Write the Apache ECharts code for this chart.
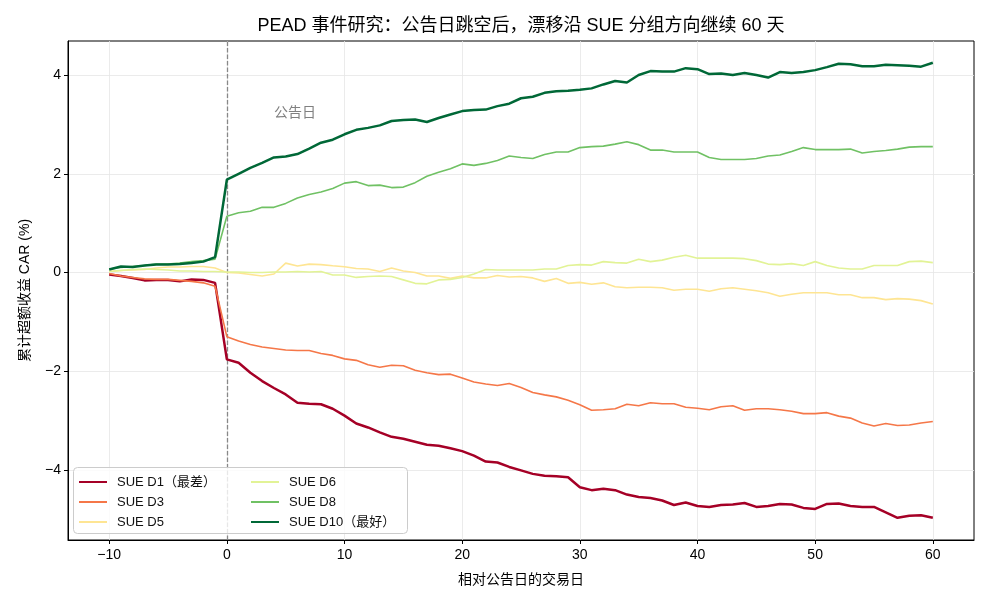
<!DOCTYPE html>
<html>
<head>
<meta charset="utf-8">
<script src="https://cdn.jsdelivr.net/npm/echarts@6/dist/echarts.min.js"></script>
<style>html,body{margin:0;padding:0;background:#fff}#c{width:990px;height:605px}</style>
</head>
<body>
<div id="c"></div>
<script>
// ---- data ----
const days = [];
for (let d = -10; d <= 60; d++) days.push(d);

const seriesNames = ['SUE D1（最差）', 'SUE D3', 'SUE D5', 'SUE D6', 'SUE D8', 'SUE D10（最好）'];

const carD1 = [-0.04,-0.07,-0.11,-0.16,-0.15,-0.15,-0.18,-0.14,-0.15,-0.21,
  -1.76,-1.83,-2.03,-2.20,-2.34,-2.47,-2.64,-2.66,-2.67,-2.76,
  -2.90,-3.06,-3.14,-3.24,-3.33,-3.37,-3.43,-3.49,-3.51,-3.56,
  -3.62,-3.71,-3.83,-3.85,-3.94,-4.01,-4.08,-4.12,-4.13,-4.15,
  -4.35,-4.41,-4.38,-4.41,-4.50,-4.55,-4.57,-4.62,-4.71,-4.66,
  -4.73,-4.75,-4.71,-4.70,-4.67,-4.75,-4.73,-4.69,-4.70,-4.77,
  -4.79,-4.69,-4.68,-4.73,-4.75,-4.75,-4.86,-4.97,-4.93,-4.92,-4.97];

const carD3 = [-0.02,-0.07,-0.10,-0.13,-0.14,-0.14,-0.16,-0.18,-0.21,-0.28,
  -1.30,-1.39,-1.46,-1.51,-1.54,-1.57,-1.58,-1.58,-1.64,-1.68,
  -1.75,-1.78,-1.87,-1.92,-1.88,-1.89,-1.98,-2.03,-2.07,-2.06,
  -2.14,-2.22,-2.26,-2.29,-2.25,-2.33,-2.43,-2.48,-2.52,-2.59,
  -2.68,-2.79,-2.78,-2.76,-2.67,-2.70,-2.64,-2.66,-2.66,-2.73,
  -2.75,-2.78,-2.72,-2.70,-2.79,-2.76,-2.76,-2.78,-2.81,-2.86,
  -2.86,-2.84,-2.91,-2.95,-3.05,-3.11,-3.06,-3.10,-3.09,-3.05,-3.02];

const carD5 = [0.02,0.04,0.05,0.06,0.09,0.11,0.11,0.12,0.12,0.09,
  0.00,-0.01,-0.04,-0.07,-0.03,0.19,0.13,0.17,0.16,0.135,
  0.115,0.08,0.07,0.02,0.09,0.03,0.00,-0.07,-0.07,-0.12,
  -0.07,-0.11,-0.11,-0.06,-0.09,-0.08,-0.11,-0.18,-0.12,-0.22,
  -0.20,-0.24,-0.21,-0.29,-0.31,-0.30,-0.30,-0.31,-0.36,-0.34,
  -0.34,-0.38,-0.33,-0.31,-0.34,-0.37,-0.41,-0.48,-0.44,-0.41,
  -0.41,-0.41,-0.45,-0.45,-0.51,-0.51,-0.55,-0.53,-0.54,-0.57,-0.64];

const carD6 = [0.02,0.04,0.06,0.07,0.06,0.05,0.03,0.03,0.02,0.02,
  0.01,0.01,0.00,0.00,0.01,0.01,0.02,0.01,0.02,-0.05,
  -0.05,-0.10,-0.08,-0.07,-0.08,-0.15,-0.22,-0.23,-0.15,-0.14,
  -0.10,-0.03,0.06,0.05,0.05,0.05,0.05,0.07,0.07,0.14,
  0.16,0.15,0.22,0.20,0.19,0.27,0.22,0.25,0.31,0.35,
  0.29,0.29,0.29,0.29,0.28,0.24,0.17,0.16,0.18,0.14,
  0.22,0.14,0.09,0.07,0.07,0.14,0.14,0.14,0.22,0.23,0.20];

const carD8 = [0.07,0.10,0.12,0.14,0.17,0.17,0.19,0.22,0.24,0.27,
  1.14,1.21,1.24,1.32,1.32,1.40,1.51,1.58,1.63,1.70,
  1.81,1.84,1.76,1.77,1.72,1.73,1.82,1.95,2.03,2.10,
  2.20,2.17,2.21,2.27,2.36,2.33,2.31,2.39,2.44,2.44,
  2.53,2.55,2.56,2.60,2.65,2.59,2.48,2.48,2.44,2.44,
  2.44,2.33,2.29,2.29,2.29,2.31,2.36,2.38,2.45,2.53,
  2.49,2.49,2.49,2.50,2.42,2.45,2.47,2.50,2.54,2.55,2.55];

const carD10 = [0.06,0.12,0.11,0.14,0.16,0.16,0.17,0.19,0.22,0.31,
  1.88,2.00,2.12,2.22,2.33,2.35,2.40,2.51,2.63,2.69,
  2.80,2.89,2.93,2.98,3.07,3.09,3.10,3.05,3.13,3.20,
  3.27,3.29,3.30,3.37,3.42,3.53,3.56,3.64,3.67,3.68,
  3.70,3.73,3.81,3.88,3.85,4.00,4.08,4.07,4.07,4.14,
  4.12,4.02,4.03,4.00,4.04,4.00,3.95,4.06,4.04,4.06,
  4.10,4.16,4.23,4.22,4.18,4.18,4.21,4.20,4.19,4.17,4.25];

const xTicks = [-10, 0, 10, 20, 30, 40, 50, 60];
const yTicks = [-4, -2, 0, 2, 4];
const eventDay = 0;
const eventLabel = '公告日';
const eventLabelPos = [4, 3.22];

// ---- style ----
const colors = ['#a50026', '#f57748', '#fee593', '#e2f396', '#70c164', '#006837'];
const widths = [2.5, 1.6, 1.6, 1.6, 1.6, 2.5];
const allData = [carD1, carD3, carD5, carD6, carD8, carD10];
const FONT = '"Liberation Sans", "Noto Sans CJK SC", sans-serif';
const minus = v => String(v).replace('-', '\u2212');

const series = seriesNames.map((name, i) => ({
  name: name,
  type: 'line',
  data: days.map((d, k) => [d, allData[i][k]]),
  symbol: 'none',
  showSymbol: false,
  lineStyle: { color: colors[i], width: widths[i] },
  itemStyle: { color: colors[i] },
  z: 2,
  animation: false
}));

series[0].markLine = {
  silent: true,
  symbol: 'none',
  label: { show: false },
  lineStyle: { color: '#888888', width: 1.3, type: [4.5, 2] },
  data: [{ xAxis: eventDay }],
  z: 1,
  animation: false
};
series[0].markPoint = {
  silent: true,
  symbol: 'circle',
  symbolSize: 0,
  label: {
    show: true, position: 'right', distance: 0,
    formatter: eventLabel, color: '#808080', fontSize: 14, fontFamily: FONT
  },
  data: [{ coord: eventLabelPos }],
  animation: false
};

const legendCommon = {
  orient: 'vertical',
  padding: 0,
  itemGap: 6,
  itemWidth: 28,
  itemHeight: 14,
  z: 5,
  selectedMode: false,
  itemStyle: { opacity: 0 },
  textStyle: { fontSize: 13, color: '#111', fontFamily: FONT, lineHeight: 14, padding: [0, 0, 0, 5] }
};

const option = {
  animation: false,
  backgroundColor: '#ffffff',
  textStyle: { fontFamily: FONT },
  title: {
    text: 'PEAD 事件研究：公告日跳空后，漂移沿 SUE 分组方向继续 60 天',
    left: 521, top: 17, padding: 0, textAlign: 'center',
    textStyle: { fontSize: 18, fontWeight: 'normal', color: '#000', fontFamily: FONT }
  },
  grid: {
    left: 68, right: 16, top: 41, bottom: 65,
    show: true, borderColor: '#000', borderWidth: 1, backgroundColor: 'transparent'
  },
  legend: [
    Object.assign({}, legendCommon, { left: 78, top: 475, data: seriesNames.slice(0, 3) }),
    Object.assign({}, legendCommon, { left: 250, top: 475, data: seriesNames.slice(3) })
  ],
  graphic: [{
    type: 'rect', left: 73, top: 467, z: 3,
    shape: { width: 334, height: 66, r: 4 },
    style: { fill: 'rgba(255,255,255,0.8)', stroke: '#cccccc', lineWidth: 1 }
  }],
  xAxis: {
    type: 'value', min: -13.5, max: 63.5,
    name: '相对公告日的交易日', nameLocation: 'middle', nameGap: 33,
    nameTextStyle: { fontSize: 14, color: '#000', fontFamily: FONT },
    axisLine: { show: true, onZero: false, lineStyle: { color: '#000', width: 1 } },
    axisTick: { show: true, inside: false, length: 4, customValues: xTicks, lineStyle: { color: '#000' } },
    axisLabel: { customValues: xTicks, formatter: minus, fontSize: 14, color: '#000', margin: 8, fontFamily: FONT },
    splitLine: { show: true, lineStyle: { color: '#e6e6e6', width: 0.8 } }
  },
  yAxis: {
    type: 'value', min: -5.42, max: 4.69,
    name: '累计超额收益 CAR (%)', nameLocation: 'middle', nameGap: 36, nameRotate: 90,
    nameTextStyle: { fontSize: 14, color: '#000', fontFamily: FONT },
    axisLine: { show: true, onZero: false, lineStyle: { color: '#000', width: 1 } },
    axisTick: { show: true, inside: false, length: 4, customValues: yTicks, lineStyle: { color: '#000' } },
    axisLabel: { customValues: yTicks, formatter: minus, fontSize: 14, color: '#000', margin: 7, fontFamily: FONT },
    splitLine: { show: true, lineStyle: { color: '#e6e6e6', width: 0.8 } }
  },
  series: series
};

const chart = echarts.init(document.getElementById('c'), null, { renderer: 'canvas' });
chart.setOption(option);
</script>
</body>
</html>
